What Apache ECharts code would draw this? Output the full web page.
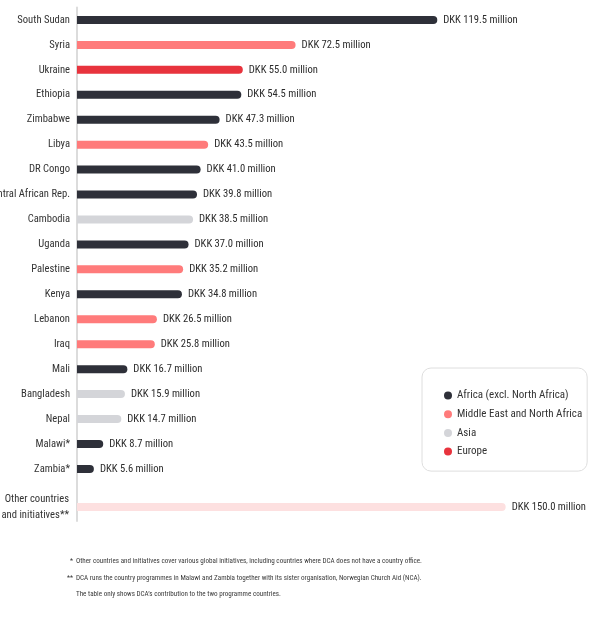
<!DOCTYPE html>
<html>
<head>
<meta charset="utf-8">
<script src="https://cdn.jsdelivr.net/npm/echarts@6/dist/echarts.min.js"></script>
<style>html,body{margin:0;padding:0;background:#fff}#c{width:602px;height:621px}</style>
</head>
<body>
<div id="c"></div>
<script>
const categories = ['South Sudan','Syria','Ukraine','Ethiopia','Zimbabwe','Libya','DR Congo','Central African Rep.','Cambodia','Uganda','Palestine','Kenya','Lebanon','Iraq','Mali','Bangladesh','Nepal','Malawi*','Zambia*'];
const values = [119.5,72.5,55.0,54.5,47.3,43.5,41.0,39.8,38.5,37.0,35.2,34.8,26.5,25.8,16.7,15.9,14.7,8.7,5.6];
const regions = ['Africa','MENA','Europe','Africa','Africa','MENA','Africa','Africa','Asia','Africa','MENA','Africa','MENA','MENA','Africa','Asia','Asia','Africa','Africa'];
const regionNames = {Africa:'Africa (excl. North Africa)', MENA:'Middle East and North Africa', Asia:'Asia', Europe:'Europe'};
const regionOrder = ['Africa','MENA','Asia','Europe'];
const regionColors = {Africa:'#2e3039', MENA:'#ff7b7b', Asia:'#d4d5d9', Europe:'#e8333d'};
const otherCategory = ['Other countries\nand initiatives**'];
const otherValues = [150.0];
const otherColor = '#fde0e0';
const footnotes = [
  ['*', 'Other countries and initiatives cover various global initiatives, including countries where DCA does not have a country office.'],
  ['**', 'DCA runs the country programmes in Malawi and Zambia together with its sister organisation, Norwegian Church Aid (NCA).'],
  ['', 'The table only shows DCA\u2019s contribution to the two programme countries.']
];

const FONT = '"Roboto Condensed","Liberation Sans Narrow",sans-serif';
const fmt = v => 'DKK ' + Number(v).toFixed(1) + ' million';

const labelCfg = {show:true, position:'right', distance:6, color:'#2b2b2b', fontSize:10.6, fontFamily:FONT, formatter: p => fmt(p.value)};

const series = regionOrder.map(r => ({
  name: regionNames[r],
  type: 'bar',
  xAxisIndex: 0, yAxisIndex: 0,
  barWidth: 8,
  barGap: '-100%',
  itemStyle: {color: regionColors[r], borderRadius: [0,4,4,0]},
  label: labelCfg,
  data: values.map((v,i) => regions[i] === r ? v : '-')
}));
series.push({
  name: 'Other',
  type: 'bar',
  xAxisIndex: 1, yAxisIndex: 1,
  barWidth: 8,
  itemStyle: {color: otherColor, borderRadius: [0,4,4,0]},
  label: labelCfg,
  data: otherValues
});

const graphics = [];
footnotes.forEach((f, i) => {
  const y = [561, 578, 594][i];
  if (f[0]) graphics.push({type:'text', x: 73, y: y, style:{text:f[0], fontSize:7.1, fontFamily:FONT, fill:'#3a3a3a', align:'right', verticalAlign:'middle'}});
  graphics.push({type:'text', x: 76, y: y, style:{text:f[1], fontSize:7.1, fontFamily:FONT, fill:'#3a3a3a', verticalAlign:'middle'}});
});

const bandH = 24.94;
const chart = echarts.init(document.getElementById('c'));
chart.setOption({
  animation: false,
  grid: [
    {left: 77, top: 7.5, width: 482.4, height: bandH * (categories.length + 1), containLabel:false, outerBoundsMode:'none'},
    {left: 77, top: 493, width: 482.4, height: 28, containLabel:false, outerBoundsMode:'none'}
  ],
  xAxis: [
    {type:'value', gridIndex:0, min:0, max:160, show:false},
    {type:'value', gridIndex:1, min:0, max:168.8, show:false}
  ],
  yAxis: [
    {type:'category', gridIndex:0, inverse:true, data:categories, max: categories.length,
     axisLine:{show:true, lineStyle:{color:'#dcdcdc', width:2}}, axisTick:{show:false},
     axisLabel:{color:'#333', fontSize:10.6, fontFamily:FONT, margin:7}},
    {type:'category', gridIndex:1, inverse:true, data:otherCategory,
     axisLine:{show:true, lineStyle:{color:'#dcdcdc', width:2}}, axisTick:{show:false},
     axisLabel:{color:'#333', fontSize:10.6, fontFamily:FONT, margin:8, lineHeight:16}}
  ],
  legend: {
    data: regionOrder.map(r => regionNames[r]),
    orient: 'vertical',
    left: 422, top: 368,
    icon: 'circle', itemWidth: 8, itemHeight: 8, itemGap: 7.7,
    padding: [22, 5, 14, 22],
    borderColor: '#dedede', borderWidth: 1, borderRadius: 9,
    textStyle: {color:'#333', fontSize:11, fontFamily:FONT},
    selectedMode: false
  },
  graphic: graphics,
  series: series
});
</script>
</body>
</html>
